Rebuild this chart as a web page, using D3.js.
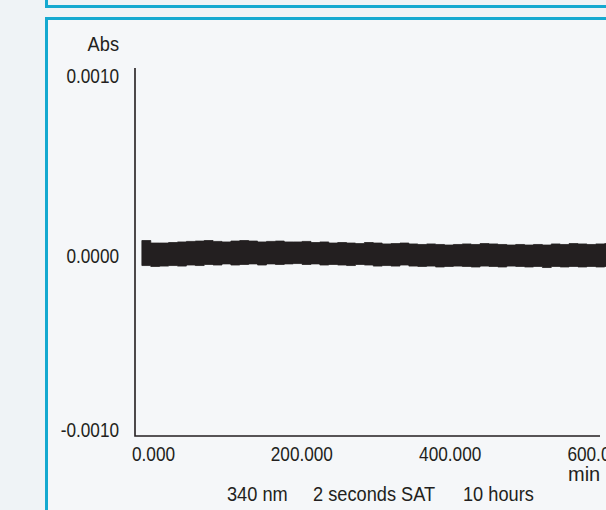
<!DOCTYPE html>
<html>
<head>
<meta charset="utf-8">
<script src="https://cdn.jsdelivr.net/npm/d3@7/dist/d3.min.js"></script>
<style>
  html, body { margin: 0; padding: 0; background: #f0f3f6; }
  svg { display: block; }
  svg text { font-family: "Liberation Sans", Arial, sans-serif; fill: #231f20; }
</style>
</head>
<body>
<script>
// ---- data ----
// time in minutes
const timeMin = [-15,-3,9,21,33,45,57,69,81,93,105,117,129,141,153,165,177,189,201,213,225,237,249,261,273,285,297,309,321,333,345,357,369,381,393,405,417,429,441,453,465,477,489,501,513,525,537,549,561,573,585,597,609,621];
// upper and lower edge of the noise band, in 1e-5 Abs
const upperE5 = [8.6,7.2,7.2,7.5,7.8,8.1,8.3,8.6,8.1,7.8,8.3,8.6,8.3,7.8,8.1,8.3,7.8,7.8,8.1,7.5,7.8,7.2,7.5,7.2,6.9,7.5,7.2,6.7,6.9,7.2,6.7,6.4,6.7,6.4,6.1,6.4,6.7,6.4,6.9,6.7,6.4,6.1,6.4,6.1,6.4,6.1,6.7,6.4,6.9,6.7,6.4,6.7,6.9,6.7];
const lowerE5 = [-5.3,-5.8,-5.6,-5.3,-5.6,-5.0,-5.3,-4.7,-5.0,-4.4,-5.0,-4.7,-4.4,-5.0,-4.4,-4.7,-4.4,-4.2,-4.7,-4.4,-5.0,-4.7,-5.0,-5.3,-4.7,-5.0,-5.6,-5.3,-5.6,-5.0,-5.6,-5.8,-5.6,-6.1,-5.8,-5.6,-5.8,-6.1,-5.6,-5.8,-6.1,-5.6,-5.8,-6.1,-5.8,-6.4,-5.8,-6.1,-5.8,-6.1,-5.8,-6.1,-5.8,-6.1];
const xTicks = [0, 200, 400, 600];
const yTicks = [0.0010, 0.0000, -0.0010];
const yTitle = "Abs";
const xUnit = "min";
const captions = ["340 nm", "2 seconds SAT", "10 hours"];

// ---- layout ----
const W = 606, H = 510;
const svg = d3.select("body").append("svg").attr("width", W).attr("height", H);

const cyan = "#15a9d0";
svg.append("rect").attr("width", W).attr("height", H).attr("fill", "#eff3f6");
svg.append("rect").attr("x", 48).attr("y", 20).attr("width", W).attr("height", H).attr("fill", "#f5f7f9");
svg.append("path").attr("d", "M46.5,-10V6.5H620").attr("fill", "none").attr("stroke", cyan).attr("stroke-width", 3);
svg.append("path").attr("d", "M46.5,520V18.5H620").attr("fill", "none").attr("stroke", cyan).attr("stroke-width", 3);

const plotLeft = 135, plotRight = 600, plotTop = 68, plotBottom = 436;
const x = d3.scaleLinear().domain([0, 600]).range([153, 598]);
const y = d3.scaleLinear().domain([-0.0010, 0.0010]).range([436, 76]);

const data = timeMin.map((t, i) => ({ t, hi: upperE5[i] * 1e-5, lo: lowerE5[i] * 1e-5 }));

const area = d3.area()
  .x(d => x(d.t))
  .y0(d => y(d.lo))
  .y1(d => y(d.hi))
  .curve(d3.curveStepAfter);
svg.append("path").datum(data).attr("d", area)
  .attr("fill", "#231f20").attr("stroke", "#231f20").attr("stroke-width", 0.8);

svg.append("path")
  .attr("d", `M${plotLeft},${plotTop}V${plotBottom}H${plotRight}`)
  .attr("fill", "none").attr("stroke", "#231f20").attr("stroke-width", 1.6);

const fs = 20;
const ff = "'Liberation Sans', Arial, sans-serif";

const gy = svg.append("g").attr("transform", `translate(${plotLeft},0)`)
  .call(d3.axisLeft(y).tickValues(yTicks).tickSize(0).tickPadding(16).tickFormat(d => d3.format(".4f")(d).replace("−", "-")));
gy.select(".domain").remove();
gy.selectAll("text").style("font-size", fs + "px").style("font-family", ff).attr("fill", "#231f20")
  .attr("data-k", 0.86)
  .filter(d => d === -0.0010).attr("dy", "0.02em");

const gx = svg.append("g").attr("transform", `translate(0,${plotBottom})`)
  .call(d3.axisBottom(x).tickValues(xTicks).tickSize(0).tickPadding(11).tickFormat(d3.format(".3f")));
gx.select(".domain").remove();
gx.selectAll("text").style("font-size", fs + "px").style("font-family", ff).attr("fill", "#231f20")
  .attr("data-k", 0.86);

svg.append("text").attr("x", 119).attr("y", 50.5).attr("text-anchor", "end")
  .attr("data-k", 0.91).style("font-size", fs + "px").text(yTitle);
svg.append("text").attr("x", 568).attr("y", 481).attr("text-anchor", "start")
  .attr("data-k", 1.0).style("font-size", fs + "px").text(xUnit);

const capX = [227, 313, 463];
svg.selectAll("text.cap").data(captions).join("text").attr("class", "cap")
  .attr("x", (d, i) => capX[i]).attr("y", 501).attr("data-k", 0.91)
  .style("font-size", fs + "px").text(d => d);

// condense texts horizontally (reference uses a condensed face)
svg.selectAll("text").each(function() {
  const k = +this.getAttribute("data-k") || 0.88;
  const len = this.getComputedTextLength();
  d3.select(this).attr("textLength", (len * k).toFixed(1)).attr("lengthAdjust", "spacingAndGlyphs");
});
</script>
</body>
</html>
